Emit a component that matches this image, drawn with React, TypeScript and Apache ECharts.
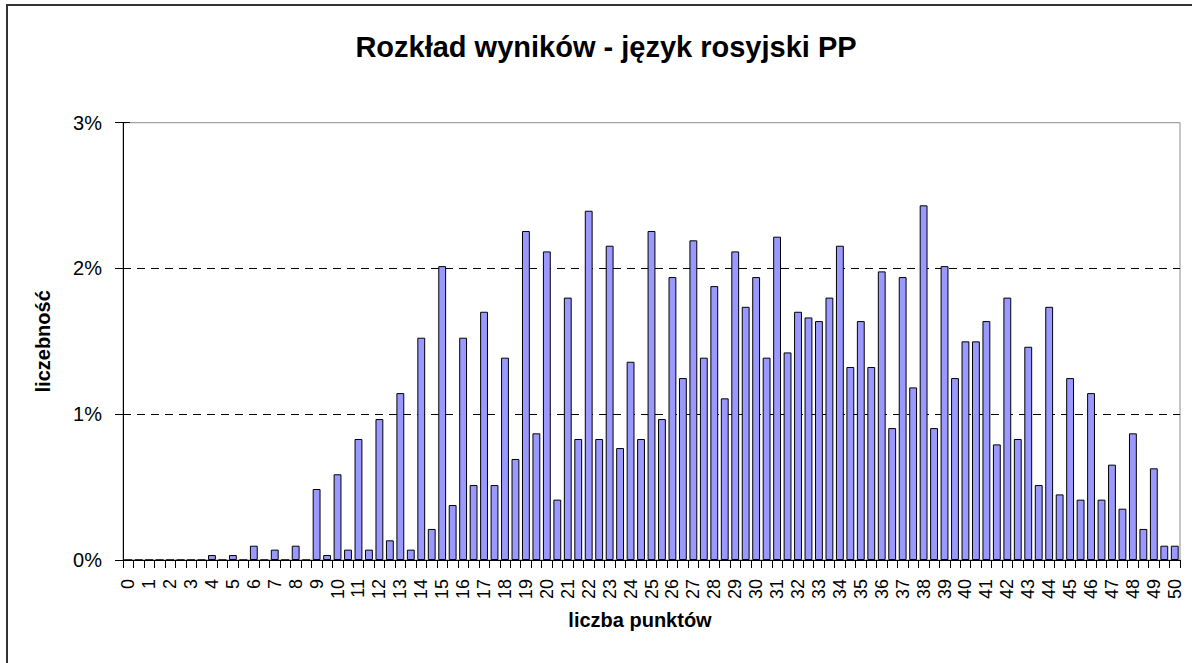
import React, { useEffect, useRef } from "react";
import * as echarts from "echarts";

const titleText = "Rozkład wyników - język rosyjski PP";
const xAxisTitle = "liczba punktów";
const yAxisTitle = "liczebność";

// score categories 0, 0.5, 1, ... 50 (only integers get a label)
const points: string[] = Array.from({ length: 101 }, (_, i) =>
  i % 2 === 0 ? String(i / 2) : `${(i - 1) / 2},5`
);

// share of students (%) for each score
const shares: number[] = [
  0, 0, 0, 0, 0, 0, 0, 0, 0.034, 0, // 0 - 4.5
  0.034, 0, 0.098, 0, 0.071, 0, 0.098, 0, 0.487, 0.034, // 5 - 9.5
  0.588, 0.071, 0.83, 0.071, 0.967, 0.135, 1.145, 0.071, 1.525, 0.213, // 10 - 14.5
  2.016, 0.377, 1.525, 0.514, 1.703, 0.514, 1.388, 0.693, 2.257, 0.869, // 15 - 19.5
  2.117, 0.414, 1.8, 0.83, 2.396, 0.83, 2.156, 0.768, 1.36, 0.83, // 20 - 24.5
  2.257, 0.967, 1.941, 1.248, 2.193, 1.388, 1.879, 1.109, 2.117, 1.737, // 25 - 29.5
  1.941, 1.388, 2.218, 1.424, 1.703, 1.664, 1.639, 1.8, 2.156, 1.324, // 30 - 34.5
  1.639, 1.324, 1.98, 0.905, 1.941, 1.184, 2.433, 0.905, 2.016, 1.248, // 35 - 39.5
  1.5, 1.5, 1.639, 0.793, 1.8, 0.83, 1.463, 0.514, 1.737, 0.45, // 40 - 44.5
  1.248, 0.414, 1.145, 0.414, 0.654, 0.352, 0.869, 0.213, 0.629, 0.098, // 45 - 49.5
  0.098, // 50
];

const yTicks = [0, 1, 2, 3];

export default function App() {
  const ref = useRef<HTMLDivElement>(null);

  useEffect(() => {
    if (!ref.current) return;
    const chart = echarts.init(ref.current, null, { renderer: "svg" });
    const font = "'Liberation Sans', Arial, sans-serif";
    chart.setOption({
      animation: false,
      backgroundColor: "#ffffff",
      textStyle: { fontFamily: font, color: "#000" },
      title: {
        text: titleText,
        left: 601,
        top: 27,
        textAlign: "center",
        textStyle: { fontFamily: font, fontSize: 29, fontWeight: "bold", color: "#000" },
      },
      graphic: [
        {
          type: "rect",
          z: -10,
          silent: true,
          shape: { x: 7, y: 5, width: 1220, height: 720 },
          style: { fill: "none", stroke: "#333333", lineWidth: 2 },
        },
        {
          type: "text",
          silent: true,
          x: 640,
          y: 620,
          style: {
            text: xAxisTitle,
            fontFamily: font,
            fontSize: 20,
            fontWeight: "bold",
            fill: "#000",
            align: "center",
            verticalAlign: "middle",
          },
        },
      ],
      grid: {
        left: 123,
        top: 122.7,
        right: 12,
        bottom: 103,
        show: true,
        borderColor: "#8c8c8c",
        borderWidth: 1,
        backgroundColor: "transparent",
        containLabel: false,
      },
      xAxis: {
        type: "category",
        data: points,
        axisLine: { show: true, lineStyle: { color: "#000", width: 1 } },
        axisTick: {
          show: true,
          interval: 0,
          alignWithLabel: false,
          length: 8,
          lineStyle: { color: "#000", width: 1 },
        },
        axisLabel: {
          interval: 1,
          rotate: 90,
          margin: 19,
          fontFamily: font,
          fontSize: 18,
          color: "#000",
        },
        splitLine: { show: false },
      },
      yAxis: [
        {
          type: "value",
          min: yTicks[0],
          max: yTicks[yTicks.length - 1],
          interval: 1,
          name: yAxisTitle,
          nameLocation: "middle",
          nameRotate: 90,
          nameGap: 70,
          nameTextStyle: { fontFamily: font, fontSize: 20, fontWeight: "bold", color: "#000" },
          axisLine: { show: true, lineStyle: { color: "#000", width: 1 } },
          axisTick: { show: true, length: 8, lineStyle: { color: "#000", width: 1 } },
          axisLabel: {
            margin: 21,
            fontFamily: font,
            fontSize: 20,
            color: "#000",
            formatter: (v: number) => `${v}%`,
          },
          splitLine: {
            show: true,
            showMinLine: false,
            showMaxLine: false,
            lineStyle: { color: "#000", width: 1, type: [8, 6] },
          },
        },
        {
          type: "value",
          min: yTicks[0],
          max: yTicks[yTicks.length - 1],
          interval: 1,
          position: "left",
          axisLine: { show: false },
          axisTick: { show: true, inside: true, length: 7, lineStyle: { color: "#000", width: 1 } },
          axisLabel: { show: false },
          splitLine: { show: false },
        },
      ],
      series: [
        {
          type: "bar",
          data: shares,
          yAxisIndex: 0,
          barCategoryGap: "25%",
          itemStyle: { color: "#9999ff", borderColor: "#000", borderWidth: 1 },
        },
      ],
    });
    return () => chart.dispose();
  }, []);

  return (
    <div
      ref={ref}
      style={{ position: "fixed", left: 0, top: 0, width: 1192, height: 663, background: "#fff" }}
    />
  );
}
